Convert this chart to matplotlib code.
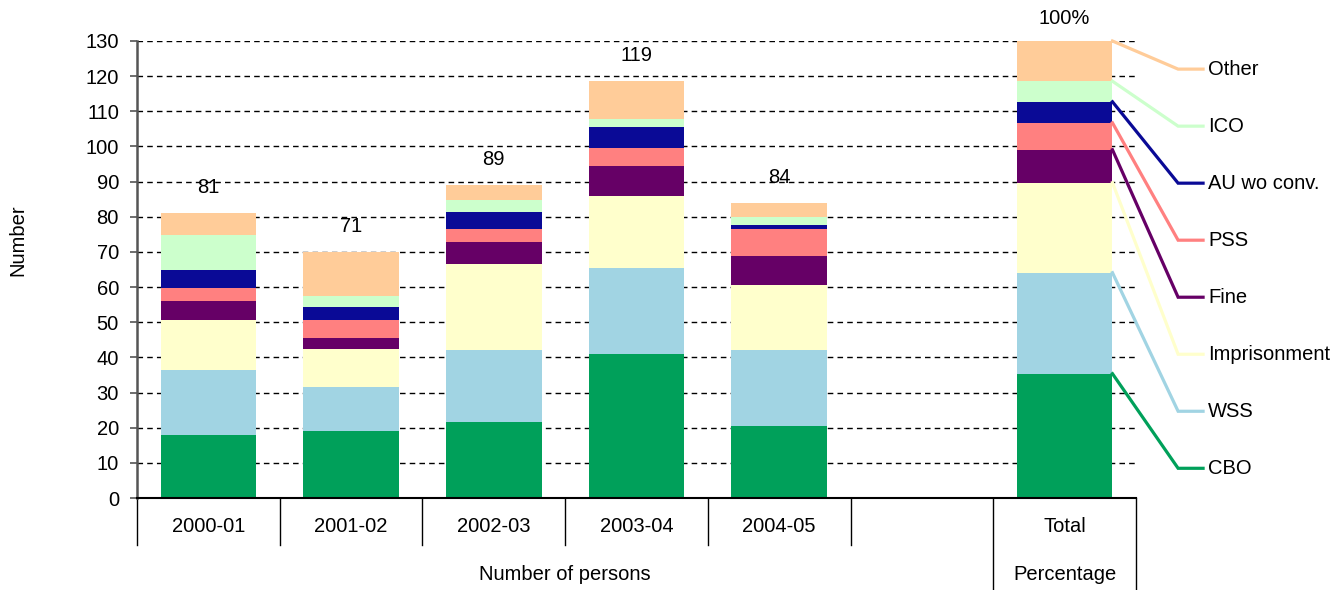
import matplotlib
matplotlib.use("Agg")
import matplotlib.pyplot as plt
import matplotlib.transforms as mtransforms
import numpy as np

plt.rcParams['font.family'] = ['Liberation Sans', 'DejaVu Sans']

years = ["2000-01", "2001-02", "2002-03", "2003-04", "2004-05"]
series = ["CBO", "WSS", "Imprisonment", "Fine", "PSS", "AU wo conv.", "ICO", "Other"]
colors = ["#00A05A", "#A1D4E3", "#FFFFCC", "#660066", "#FF8080", "#0A0A96", "#CCFFCC", "#FFCC99"]

cbo = [18.0, 19.0, 21.6, 41.0, 20.5]
wss = [18.5, 12.5, 20.5, 24.4, 21.6]
imprisonment = [14.2, 11.0, 24.5, 20.5, 18.5]
fine = [5.2, 3.0, 6.2, 8.6, 8.2]
pss = [3.7, 5.0, 3.7, 5.1, 7.7]
au = [5.2, 3.7, 4.9, 5.9, 1.2]
ico = [10.1, 3.2, 3.4, 2.3, 2.2]
other = [6.1, 12.6, 4.2, 10.7, 4.1]
totals = [81, 71, 89, 119, 84]

# percentage of total (Total bar), scaled so 100% = top of axis (130)
pct = [27.2, 22.1, 19.7, 7.2, 5.9, 4.6, 4.5, 8.8]
pct_top = 130.0

data = [cbo, wss, imprisonment, fine, pss, au, ico, other]
FS = 14.5

fig = plt.figure(figsize=(13.38, 5.9), dpi=100)
ax = fig.add_axes([137/1338, 1-498/590, (1136-137)/1338, (498-41)/590])

x = np.arange(len(years))
xt = 6
w = 0.67
bottom = np.zeros(len(years))
bt = 0.0
seg_tops = []
for vals, p, c in zip(data, pct, colors):
    ax.bar(x, vals, w, bottom=bottom, color=c, zorder=2, linewidth=0)
    bottom += np.array(vals)
    v = p * pct_top / 100.0
    ax.bar(xt, v, w, bottom=bt, color=c, zorder=2, linewidth=0)
    bt += v
    seg_tops.append(bt)

for xi, top, t in zip(x, bottom, totals):
    ax.annotate(str(t), (xi, top), xytext=(0, 18.5), textcoords="offset points",
                ha="center", va="center", fontsize=FS)
ax.annotate("100%", (xt, bt), xytext=(0, 16), textcoords="offset points",
            ha="center", va="center", fontsize=FS, annotation_clip=False)

ax.set_xlim(-0.5, 6.5)
ax.set_ylim(0, 130)
ax.set_yticks(np.arange(0, 131, 10))
ax.tick_params(axis='y', labelsize=FS, length=5, width=1.2, pad=8, color="#555555")
ax.set_xticks([])
for yv in np.arange(10, 131, 10):
    ax.axhline(yv, color="black", lw=1.0, ls=(0, (4, 3)), zorder=1)

for s in ["top", "right"]:
    ax.spines[s].set_visible(False)
ax.spines["left"].set_color("#555555")
ax.spines["left"].set_linewidth(1.8)
ax.spines["bottom"].set_color("black")
ax.spines["bottom"].set_linewidth(1.5)

trans = mtransforms.blended_transform_factory(ax.transData, ax.transAxes)
for sx in [-0.5, 0.5, 1.5, 2.5, 3.5, 4.5]:
    ax.plot([sx, sx], [0, -47/457], color="black", lw=1.0, transform=trans, clip_on=False)
for sx in [5.5, 6.5]:
    ax.plot([sx, sx], [0, -92/457], color="black", lw=1.0, transform=trans, clip_on=False)

for xi, lab in enumerate(years + ["", "Total"]):
    ax.text(xi, -29/457, lab, transform=trans, ha="center", va="center", fontsize=FS)
ax.text(2.5, -77/457, "Number of persons", transform=trans, ha="center", va="center", fontsize=FS)
ax.text(6, -77/457, "Percentage", transform=trans, ha="center", va="center", fontsize=FS)

fig.text(18/1338, 1-240/590, "Number", rotation=90, ha="center", va="center", fontsize=FS)

# leader-line legend
label_y = np.linspace(8.45, 122.0, len(series))
x_start = xt + w/2
x_corner = 6.795
x_end = 6.97
for name, c, top, ly in zip(series, colors, seg_tops, label_y):
    ax.plot([x_start, x_corner, x_end], [top, ly, ly], color=c, lw=2.3,
            clip_on=False, zorder=3, solid_joinstyle="miter")
    ax.text(7.005, ly, name, ha="left", va="center", fontsize=FS)

fig.savefig("out.png", dpi=100)
